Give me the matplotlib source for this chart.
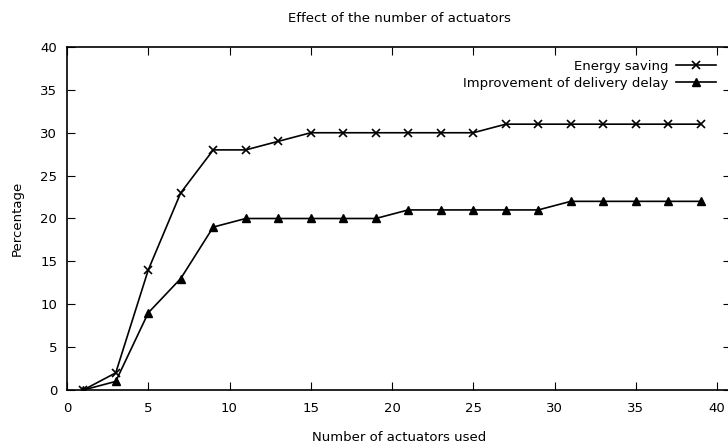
import numpy as np
import matplotlib.pyplot as plt

plt.rcParams['font.family'] = ['DejaVu Sans']

actuators = [1, 3, 5, 7, 9, 11, 13, 15, 17, 19, 21, 23, 25, 27, 29, 31, 33, 35, 37, 39]
energy = [0, 2, 14, 23, 28, 28, 29, 30, 30, 30, 30, 30, 30, 31, 31, 31, 31, 31, 31, 31]
delay = [0, 1, 9, 13, 19, 20, 20, 20, 20, 20, 21, 21, 21, 21, 21, 22, 22, 22, 22, 22]

fig = plt.figure(figsize=(7.28, 4.45), dpi=100)
ax = fig.add_axes([67/728, 55/445, (731-67)/728, (390-47)/445])

ax.plot(actuators, energy, 'k-', marker='x', ms=6, mew=1.2, lw=1.2, label='Energy saving')
ax.plot(actuators, delay, 'k-', marker='^', ms=5.5, lw=1.2, label='Improvement of delivery delay')

ax.set_xlim(0, 40 * (731-67) / (717-67))
ax.set_ylim(0, 40)
ax.set_xticks(np.arange(0, 41, 5))
ax.set_yticks(np.arange(0, 41, 5))
ax.tick_params(direction='in', length=6, top=True, right=True, labelsize=9.5)
ax.tick_params(axis='x', pad=9)
ax.tick_params(axis='y', pad=7)
for s in ax.spines.values():
    s.set_linewidth(1.2)

ax.set_title('Effect of the number of actuators', fontsize=9.5, pad=18)
ax.set_xlabel('Number of actuators used', fontsize=9.5, labelpad=11)
ax.set_ylabel('Percentage', fontsize=9.5, labelpad=12)

ax.legend(loc='upper right', bbox_to_anchor=((721-67)/(731-67), 0.978), frameon=False,
          markerfirst=False, fontsize=9.5, handlelength=3, labelspacing=0.3,
          borderaxespad=0, handletextpad=0.6)

fig.savefig('out.png', dpi=100)
